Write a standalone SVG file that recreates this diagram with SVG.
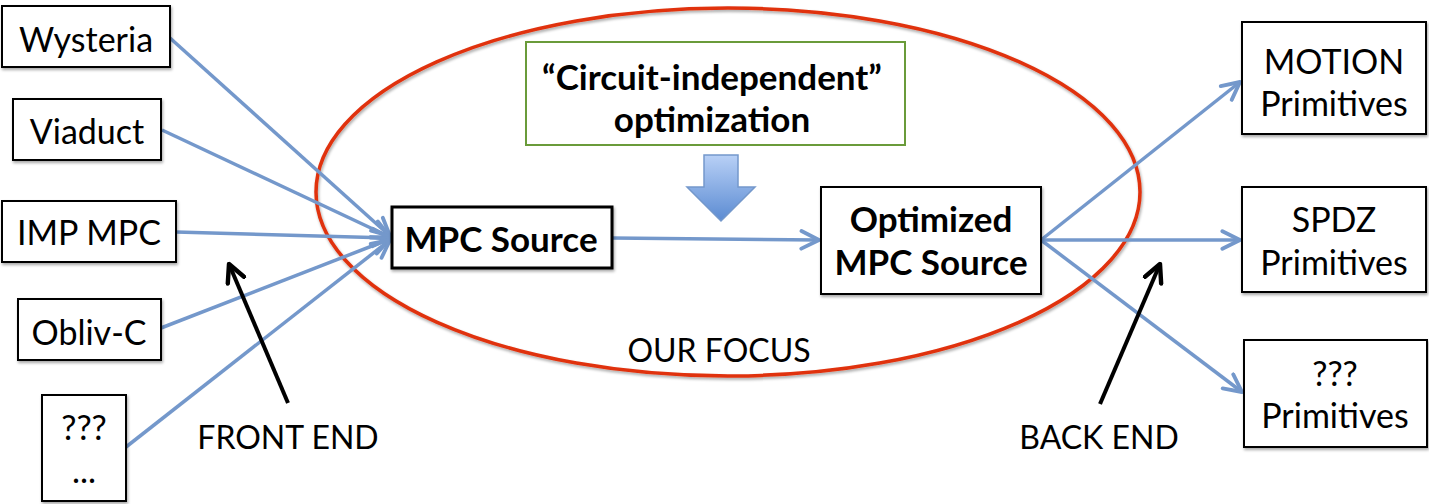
<svg xmlns="http://www.w3.org/2000/svg" width="1429" height="504" viewBox="0 0 1429 504">
<style>
.box{fill:#fff;stroke:#000;stroke-width:2}
.t{font-family:Lato,"Open Sans",sans-serif;font-size:34px;fill:#000;text-anchor:middle}
.b{font-weight:bold;font-size:35px}
.lbl{font-size:32px}
.con{fill:none;stroke:#7498cb;stroke-width:3.5}
.blk{fill:none;stroke:#000;stroke-width:4}
</style>
<defs>
<marker id="ah" viewBox="0 0 20 20" refX="18" refY="10" markerWidth="22" markerHeight="22" markerUnits="userSpaceOnUse" orient="auto">
<path d="M2,2 L18,10 L2,18" fill="none" stroke="#7498cb" stroke-width="3.5" stroke-linecap="round" stroke-linejoin="round"/>
</marker>
<marker id="ak" viewBox="0 0 20 20" refX="18" refY="10" markerWidth="22" markerHeight="22" markerUnits="userSpaceOnUse" orient="auto">
<path d="M2,2 L18,10 L2,18" fill="none" stroke="#000" stroke-width="4" stroke-linecap="round" stroke-linejoin="round"/>
</marker>
<linearGradient id="bg" x1="0" y1="0" x2="0" y2="1">
<stop offset="0" stop-color="#b8d0f6"/>
<stop offset="1" stop-color="#5b8bd2"/>
</linearGradient>
<filter id="sh" x="-5%" y="-5%" width="110%" height="115%">
<feGaussianBlur in="SourceAlpha" stdDeviation="1.5"/>
<feOffset dx="1" dy="2"/>
<feComponentTransfer><feFuncA type="linear" slope="0.35"/></feComponentTransfer>
<feMerge><feMergeNode/><feMergeNode in="SourceGraphic"/></feMerge>
</filter>
</defs>
<rect width="1429" height="504" fill="#fff"/>

<g id="focus">
<ellipse cx="728" cy="192" rx="412" ry="184" fill="none" stroke="#e0300c" stroke-width="3.5" filter="url(#sh)"/>
<text class="t lbl" x="719" y="362">OUR FOCUS</text>
</g>

<g id="connectors">
<line class="con" x1="170" y1="38" x2="390" y2="236" marker-end="url(#ah)"/>
<line class="con" x1="162" y1="130" x2="390" y2="237" marker-end="url(#ah)"/>
<line class="con" x1="176" y1="232" x2="390" y2="238" marker-end="url(#ah)"/>
<line class="con" x1="161" y1="328" x2="390" y2="239" marker-end="url(#ah)"/>
<line class="con" x1="126" y1="447" x2="390" y2="240" marker-end="url(#ah)"/>
<line class="con" x1="612" y1="238" x2="819" y2="240" marker-end="url(#ah)"/>
<line class="con" x1="1041" y1="240" x2="1240" y2="82" marker-end="url(#ah)"/>
<line class="con" x1="1041" y1="240" x2="1240" y2="240" marker-end="url(#ah)"/>
<line class="con" x1="1041" y1="240" x2="1242" y2="392" marker-end="url(#ah)"/>
<line class="blk" x1="288" y1="403" x2="229" y2="264" marker-end="url(#ak)"/>
<line class="blk" x1="1100" y1="404" x2="1160" y2="264" marker-end="url(#ak)"/>
<path d="M704,155 L738,155 L738,187 L755,187 L721,221 L687,187 L704,187 Z" fill="url(#bg)" stroke="#7498cb" stroke-width="1.5"/>
</g>

<g id="wysteria"><rect class="box" x="2" y="6" width="168" height="61" filter="url(#sh)"/><text class="t" x="86" y="52">Wysteria</text></g>
<g id="viaduct"><rect class="box" x="13" y="99" width="148" height="61" filter="url(#sh)"/><text class="t" x="87" y="144">Viaduct</text></g>
<g id="impmpc"><rect class="box" x="2" y="201" width="174" height="61" filter="url(#sh)"/><text class="t" x="89" y="245">IMP MPC</text></g>
<g id="oblivc"><rect class="box" x="18" y="299" width="143" height="61" filter="url(#sh)"/><text class="t" x="89" y="345">Obliv-C</text></g>
<g id="unknown-front"><rect class="box" x="42" y="395" width="84" height="106" filter="url(#sh)"/><text class="t" x="84" y="440">???</text><text class="t" x="84" y="483">...</text></g>

<g id="optim"><rect x="526" y="42" width="379" height="103" fill="#fff" stroke="#6a9b3a" stroke-width="2"/><text class="t b" x="712" y="90">“Circuit-independent”</text><text class="t b" x="712" y="132">optimization</text></g>

<g id="mpcsource"><rect x="392" y="207" width="220" height="61" fill="#fff" stroke="#000" stroke-width="3" filter="url(#sh)"/><text class="t b" x="501" y="252">MPC Source</text></g>
<g id="optimized"><rect class="box" x="821" y="187" width="220" height="107" filter="url(#sh)"/><text class="t b" x="931" y="232">Optimized</text><text class="t b" x="931" y="275">MPC Source</text></g>

<g id="motion"><rect class="box" x="1242" y="22" width="184" height="112" filter="url(#sh)"/><text class="t" x="1334" y="74">MOTION</text><text class="t" x="1334" y="116">Primitives</text></g>
<g id="spdz"><rect class="box" x="1242" y="187" width="184" height="105" filter="url(#sh)"/><text class="t" x="1334" y="232">SPDZ</text><text class="t" x="1334" y="275">Primitives</text></g>
<g id="unknown-back"><rect class="box" x="1244" y="340" width="183" height="107" filter="url(#sh)"/><text class="t" x="1335" y="386">???</text><text class="t" x="1335" y="428">Primitives</text></g>

<g id="labels">
<text class="t lbl" x="288" y="449">FRONT END</text>
<text class="t lbl" x="1099" y="449">BACK END</text>
</g>
</svg>
